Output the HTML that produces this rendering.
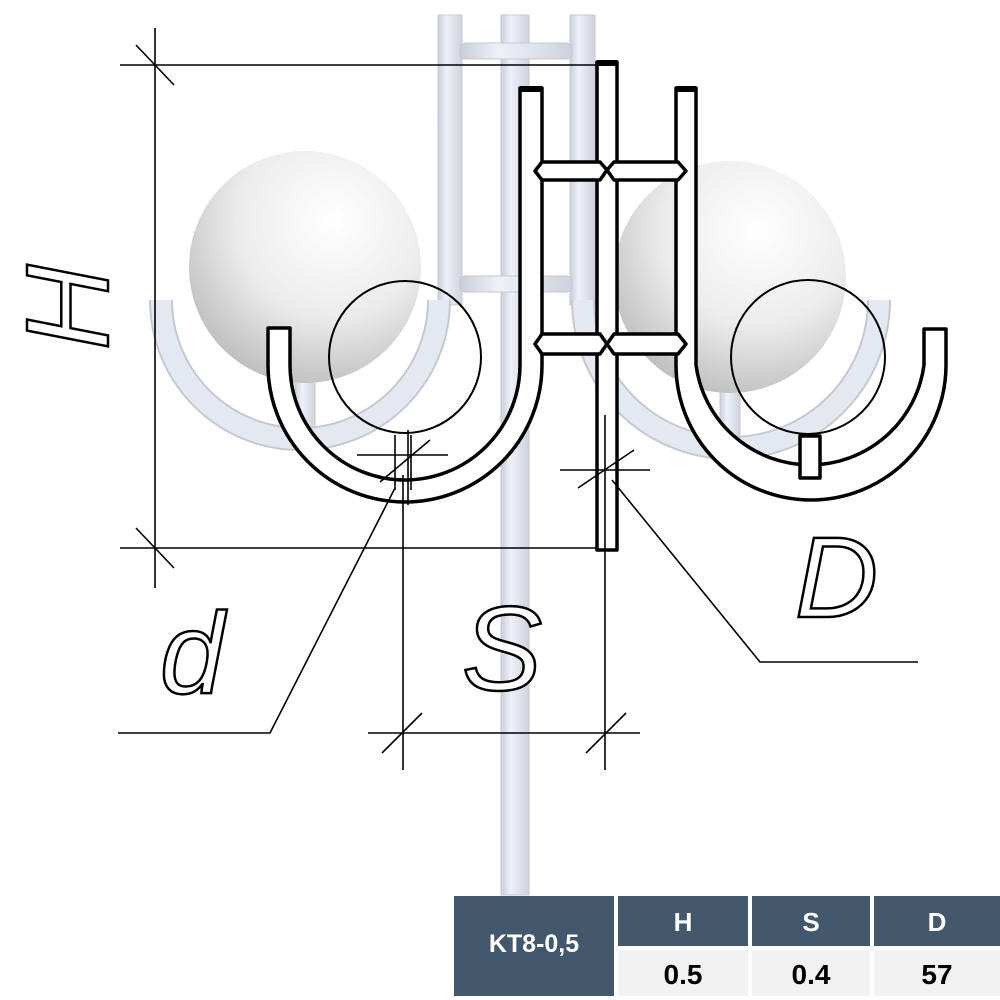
<!DOCTYPE html>
<html><head><meta charset="utf-8"><style>
html,body{margin:0;padding:0;background:#fff;width:1000px;height:1000px;overflow:hidden}
svg{display:block}
</style></head><body>
<svg width="1000" height="1000" viewBox="0 0 1000 1000" xmlns="http://www.w3.org/2000/svg">
<defs>
<radialGradient id="sph" cx="0.62" cy="0.3" r="0.75">
<stop offset="0" stop-color="#ffffff"/><stop offset="0.55" stop-color="#ececec"/><stop offset="1" stop-color="#bdbdbd"/>
</radialGradient>
<linearGradient id="tube" x1="0" x2="1" y1="0" y2="0">
<stop offset="0" stop-color="#c9ceda"/><stop offset="0.35" stop-color="#eef1f8"/><stop offset="1" stop-color="#cdd2dd"/>
</linearGradient>
</defs>
<g fill="url(#tube)" stroke="#c4c9d4" stroke-width="1">
<rect x="438" y="15" width="24" height="290"/>
<rect x="501" y="15" width="28" height="880"/>
<rect x="570" y="15" width="25" height="290"/>
<rect x="460" y="43" width="112" height="16" rx="6"/>
<rect x="460" y="276" width="112" height="16" rx="6"/>
<rect x="295" y="380" width="20" height="55"/>
<rect x="720" y="390" width="20" height="50"/>
</g>
<path d="M161 300 A139 139 0 0 0 439 300" fill="none" stroke="#c4c9d4" stroke-width="24"/>
<path d="M161 300 A139 139 0 0 0 439 300" fill="none" stroke="#e4e8f1" stroke-width="20"/>
<path d="M583 300 A148 148 0 0 0 879 300" fill="none" stroke="#c4c9d4" stroke-width="24"/>
<path d="M583 300 A148 148 0 0 0 879 300" fill="none" stroke="#e4e8f1" stroke-width="20"/>
<circle cx="305" cy="267" r="116" fill="url(#sph)"/>
<circle cx="730" cy="277" r="116" fill="url(#sph)"/>

<g fill="#fff" stroke="#000" stroke-width="3.5" stroke-linejoin="round">
<path d="M268 328 L290 328 L290 365 A115 115 0 0 0 520 365 L520 88 L542 88 L542 365 A137 137 0 0 1 268 365 Z"/>
<path d="M676 88 L696 88 L696 365 A115 115 0 0 0 924 365 L924 329 L946 329 L946 365 A135 135 0 0 1 676 365 Z"/>
<rect x="597" y="62" width="20" height="488"/>
<polygon points="542,162 600,162 607,170 600,180 542,180 535,171"/>
<polygon points="614,162 678,162 686,171 678,180 614,180 607,170"/>
<polygon points="542,334 600,334 607,344 600,354 542,354 535,344"/>
<polygon points="614,334 678,334 686,344 678,354 614,354 607,344"/>
<rect x="800" y="436" width="20" height="42"/>
</g>
<g stroke="#000" stroke-width="6">
<line x1="520" y1="89" x2="542" y2="89"/><line x1="676" y1="89" x2="696" y2="89"/><line x1="597" y1="63" x2="617" y2="63"/>
</g>
<g fill="none" stroke="#000" stroke-width="2">
<circle cx="405" cy="357" r="76"/>
<circle cx="808" cy="357" r="77"/>
</g>
<g fill="none" stroke="#000" stroke-width="1.6">
<line x1="155" y1="28" x2="155" y2="588"/>
<line x1="120" y1="65" x2="600" y2="65"/>
<line x1="120" y1="548" x2="598" y2="548"/>
<line x1="136" y1="45" x2="174" y2="85"/>
<line x1="136" y1="528" x2="174" y2="568"/>
<line x1="357" y1="455" x2="448" y2="455"/>
<line x1="395" y1="435" x2="395" y2="490"/>
<line x1="411" y1="435" x2="411" y2="490"/>
<line x1="408" y1="430" x2="408" y2="505"/>
<line x1="380" y1="482" x2="430" y2="440"/>
<line x1="403" y1="475" x2="403" y2="770"/>
<polyline points="395,488 270,733 118,733"/>
<line x1="560" y1="470" x2="650" y2="470"/>
<line x1="605" y1="415" x2="605" y2="770"/>
<line x1="578" y1="488" x2="634" y2="450"/>
<polyline points="612,480 760,662 918,662"/>
<line x1="368" y1="733" x2="640" y2="733"/>
<line x1="382" y1="753" x2="422" y2="713"/>
<line x1="586" y1="753" x2="626" y2="713"/>
</g>
<g font-family="Liberation Sans, sans-serif" font-style="italic" fill="#fff" stroke="#000" stroke-width="2.5">
<text x="0" y="0" font-size="118" transform="translate(108,350) rotate(-90)" textLength="100">H</text>
<text x="160" y="693" font-size="115">d</text>
<text x="462" y="690" font-size="120">S</text>
<text x="795" y="617" font-size="115">D</text>
</g>

<g font-family="Liberation Sans, sans-serif" font-weight="bold" text-anchor="middle">
<rect x="454" y="896" width="160" height="100" fill="#43576d"/>
<rect x="618" y="896" width="130" height="50" fill="#43576d"/>
<rect x="752" y="896" width="118" height="50" fill="#43576d"/>
<rect x="874" y="896" width="126" height="50" fill="#43576d"/>
<rect x="618" y="950" width="130" height="46" fill="#f2f2f2"/>
<rect x="752" y="950" width="118" height="46" fill="#f2f2f2"/>
<rect x="874" y="950" width="126" height="46" fill="#f2f2f2"/>
<text x="534" y="952" font-size="25" fill="#fff">KT8-0,5</text>
<text x="683" y="931" font-size="26" fill="#fff">H</text>
<text x="811" y="931" font-size="26" fill="#fff">S</text>
<text x="937" y="931" font-size="26" fill="#fff">D</text>
<text x="683" y="984" font-size="28" fill="#000">0.5</text>
<text x="811" y="984" font-size="28" fill="#000">0.4</text>
<text x="937" y="984" font-size="28" fill="#000">57</text>
</g>
</svg>
</body></html>
